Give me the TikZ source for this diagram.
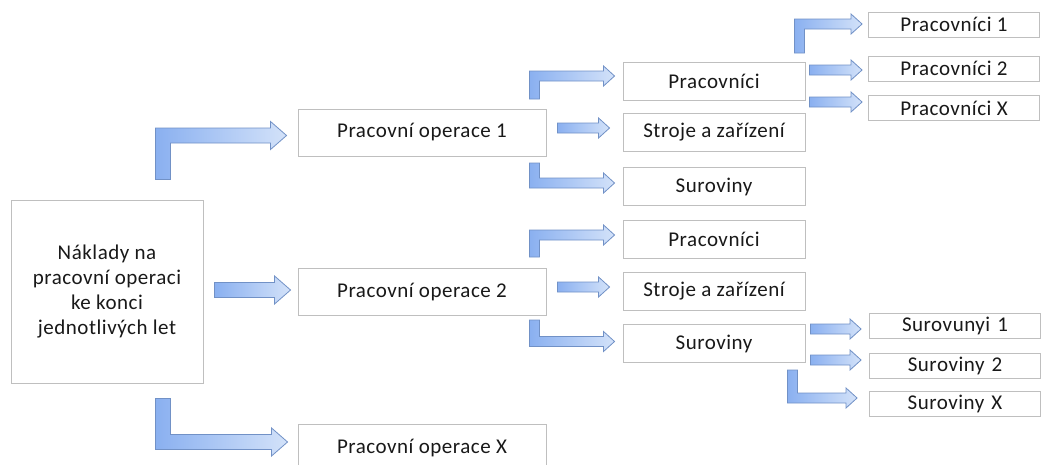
\documentclass[tikz,border=0pt]{standalone}
\usepackage{fontspec}
\setmainfont[LetterSpace=2.5]{Carlito}
\definecolor{ARRdark}{HTML}{8AB0F0}
\definecolor{ARRlight}{HTML}{D3E2F9}
\definecolor{ARRedge}{HTML}{7191C6}
\definecolor{BOXgray}{HTML}{BFBFBF}
\usetikzlibrary{calc}

% arrow sizes (half shaft, half head, head length)
\newcommand{\bigarrows}{\def\aw{7.5pt}\def\ah{14pt}\def\al{16pt}}
\newcommand{\smallarrows}{\def\aw{5pt}\def\ah{10pt}\def\al{11pt}}
% bent block arrow: start, tip, 1 = up / -1 = down
\newcommand{\bentarrow}[3]{%
  \path[blockarrow] let \p1=(#1), \p2=(#2) in
    (\x1-\aw,\y1) -- (\x1-\aw,{\y2+(#3)*\aw}) -- (\x2-\al,{\y2+(#3)*\aw})
    -- (\x2-\al,{\y2+(#3)*\ah}) -- (\x2,\y2) -- (\x2-\al,{\y2-(#3)*\ah})
    -- (\x2-\al,{\y2-(#3)*\aw}) -- (\x1+\aw,{\y2-(#3)*\aw}) -- (\x1+\aw,\y1) -- cycle;}
% straight block arrow: start, tip
\newcommand{\straightarrow}[2]{%
  \path[blockarrow] let \p1=(#1), \p2=(#2) in
    (\x1,\y2+\aw) -- (\x2-\al,\y2+\aw) -- (\x2-\al,\y2+\ah) -- (\x2,\y2)
    -- (\x2-\al,\y2-\ah) -- (\x2-\al,\y2-\aw) -- (\x1,\y2-\aw) -- cycle;}

\begin{document}
\begin{tikzpicture}[x=1pt, y=-1pt,
    box/.style={draw=BOXgray, line width=0.9pt, fill=white, inner sep=0pt,
      align=center, text=black!90, font=\fontsize{21}{24.7}\selectfont},
    opbox/.style={box, minimum width=248, minimum height=47},
    itembox/.style={box, minimum width=182, minimum height=38},
    leafbox/.style={box, minimum width=171, minimum height=25},
    blockarrow/.style={draw=ARRedge, line width=0.8pt, left color=ARRdark,
      right color=ARRlight, line join=miter}]
  \useasboundingbox (0,0) rectangle (1042,464);
  \clip (0,0) rectangle (1042,464);
  % Main box
  \node[box, minimum width=192, minimum height=183] (main) at (107,291.5)
    {Náklady na\\pracovní operaci\\ke konci\\jednotlivých let};
  % Operations
  \node[opbox] (op1) at (422,132.5) {Pracovní operace 1};
  \node[opbox] (op2) at (422,292) {Pracovní operace 2};
  \node[opbox] (opx) at (422,448) {Pracovní operace X};
  % Items of operation 1
  \node[itembox] (p1) at (714,81.5) {Pracovníci};
  \node[itembox] (s1) at (714,132.5) {Stroje a zařízení};
  \node[itembox] (r1) at (714,186.5) {Suroviny};
  % Items of operation 2
  \node[itembox] (p2) at (714,239) {Pracovníci};
  \node[itembox] (s2) at (714,291) {Stroje a zařízení};
  \node[itembox] (r2) at (714,343.5) {Suroviny};
  % Leaves
  \node[leafbox] (p1a) at (954,24.5) {Pracovníci 1};
  \node[leafbox] (p1b) at (954,68.5) {Pracovníci 2};
  \node[leafbox] (p1x) at (954,108) {Pracovníci X};
  \node[leafbox] (r2a) at (955,325.5) {Surovunyi\,\,1};
  \node[leafbox] (r2b) at (955,366) {Suroviny\,\,2};
  \node[leafbox] (r2x) at (955,404) {Suroviny\,\,X};

  % Arrows from main box
  \bigarrows
  \bentarrow{$(main.north)+(56,-20)$}{$(op1.west)+(-11,3)$}{1}
  \straightarrow{$(main.east)+(11,-2)$}{$(op2.west)+(-7,-2)$}
  \bentarrow{$(main.south)+(56,15)$}{$(opx.west)+(-10,-6)$}{-1}
  % Arrows from operations
  \smallarrows
  \bentarrow{$(op1.east)+(-12,-33.5)$}{$(p1.west)+(-8,-5.5)$}{1}
  \straightarrow{$(op1.east)+(11,-4.5)$}{$(s1.west)+(-13,-4.5)$}
  \bentarrow{$(op1.east)+(-12,30.5)$}{$(r1.west)+(-8,-3.5)$}{-1}
  \bentarrow{$(op2.east)+(-12,-35)$}{$(p2.west)+(-8,-4)$}{1}
  \straightarrow{$(op2.east)+(11,-5)$}{$(s2.west)+(-13,-4)$}
  \bentarrow{$(op2.east)+(-12,28)$}{$(r2.west)+(-8,-2)$}{-1}
  % Arrows to leaves
  \bentarrow{$(p1.east)+(-6,-28.5)$}{$(p1a.west)+(-6,-0.5)$}{1}
  \straightarrow{$(p1.east)+(4,-11.5)$}{$(p1b.west)+(-6,1.5)$}
  \straightarrow{$(p1.east)+(4,20.5)$}{$(p1x.west)+(-6,-6)$}
  \straightarrow{$(r2.east)+(5,-14.5)$}{$(r2a.west)+(-8,3.5)$}
  \straightarrow{$(r2.east)+(5,16.5)$}{$(r2b.west)+(-8,-6)$}
  \bentarrow{$(r2.east)+(-13,26.5)$}{$(r2x.west)+(-12,-6)$}{-1}
\end{tikzpicture}
\end{document}
